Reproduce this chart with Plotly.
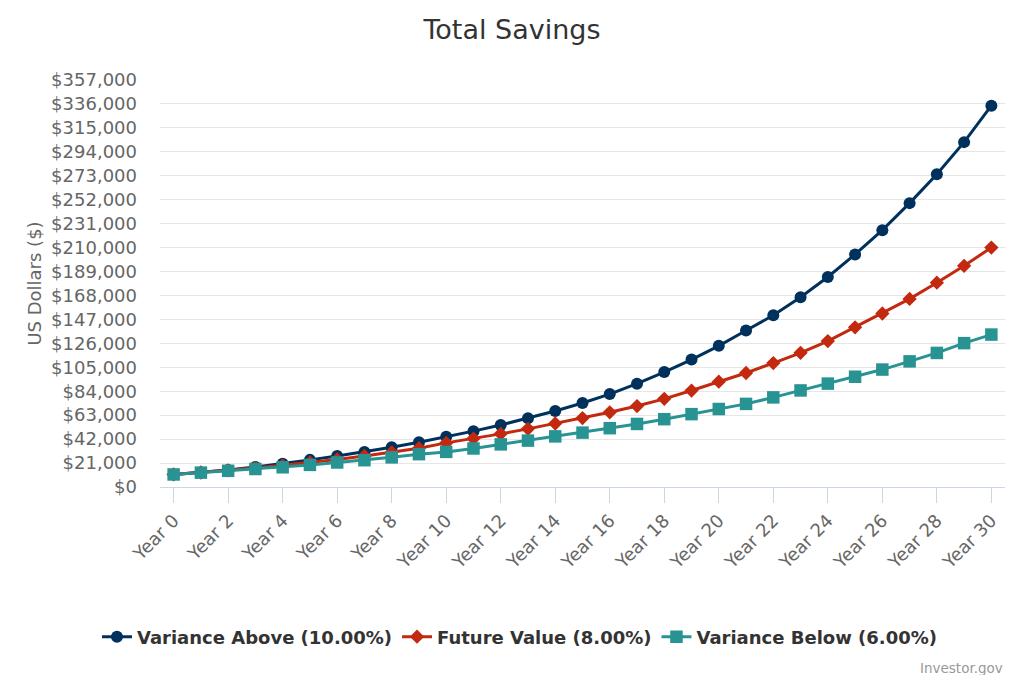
import plotly.graph_objects as go

years = list(range(0, 31))
year_labels = [f"Year {y}" for y in years]

above = [11000, 12800, 15000, 17600, 20500, 23800, 27200, 30800, 34800, 39200,
         44000, 49000, 54400, 60300, 66700, 73700, 81500, 90600, 100800, 111800,
         123800, 137300, 150600, 166400, 184200, 204000, 225300, 249000, 274400, 302500,
         334500]
future = [11000, 12700, 14600, 16700, 19000, 21500, 24200, 27200, 30400, 34000,
          38700, 42500, 46600, 51000, 55700, 60500, 65500, 71000, 77300, 84600,
          92400, 100000, 108700, 117700, 128000, 140100, 152200, 165000, 179200, 194000,
          210000]
below = [11000, 12600, 14200, 15800, 17300, 19400, 21500, 23500, 26000, 28800,
         30800, 33800, 37400, 40700, 44400, 47700, 51600, 55300, 59500, 63900,
         68400, 72900, 78600, 84700, 90700, 96700, 103000, 110200, 117600, 126200,
         133700]

series_names = ["Variance Above (10.00%)", "Future Value (8.00%)", "Variance Below (6.00%)"]
colors = ["#00305c", "#c2290f", "#289393"]
symbols = ["circle", "diamond", "square"]
sizes = [12, 11, 12.5]

y_ticks = list(range(0, 357001, 21000))
y_tick_text = [f"${v:,}" for v in y_ticks]
x_ticks = list(range(0, 31, 2))
x_tick_text = [f"Year {y}" for y in x_ticks]

FONT = "DejaVu Sans"

fig = go.Figure()
for name, vals, col, sym, sz in zip(series_names, [above, future, below], colors, symbols, sizes):
    fig.add_trace(go.Scatter(
        x=years, y=vals, name=name, mode="lines+markers",
        line=dict(color=col, width=3),
        marker=dict(symbol=sym, size=sz, color=col),
        text=year_labels,
    ))

W, H = 1008, 667
fig.update_layout(
    width=W, height=H,
    paper_bgcolor="white", plot_bgcolor="white",
    margin=dict(l=152, r=11, t=72, b=188),
    title=dict(text="Total Savings", x=0.5, xanchor="center", xref="container",
               y=1 - 22 / H, yanchor="middle",
               font=dict(family=FONT, size=27, color="#333333")),
    font=dict(family=FONT, color="#666666"),
    showlegend=True,
    legend=dict(orientation="h", x=0.426, xanchor="center", y=-0.3686, yanchor="middle",
                font=dict(family=FONT, size=18, color="#333333", weight="bold"),
                traceorder="normal"),
    xaxis=dict(range=[-0.5, 30.5], tickmode="array", tickvals=x_ticks,
               ticktext=x_tick_text, tickangle=-45, automargin=False,
               showgrid=False, zeroline=False, showline=True, linecolor="#ccd6eb", linewidth=1,
               ticks="outside", ticklen=15, tickcolor="#ccd6eb",
               tickfont=dict(family=FONT, size=18, color="#666666")),
    yaxis=dict(range=[0, 357000], tickmode="array", tickvals=y_ticks, ticktext=y_tick_text,
               showgrid=True, gridcolor="#e6e6e6", gridwidth=1, automargin=False,
               zeroline=False, showline=False, ticks="", ticklabelstandoff=22,
               title=dict(text="US Dollars ($)", font=dict(family=FONT, size=18, color="#666666"), standoff=4),
               tickfont=dict(family=FONT, size=18, color="#666666")),
    annotations=[dict(text="Investor.gov", xref="paper", yref="paper", x=1.0, y=-0.4447,
                      xanchor="right", yanchor="middle", showarrow=False,
                      font=dict(family=FONT, size=13.5, color="#999999"))],
)

fig.write_html("out.html")
